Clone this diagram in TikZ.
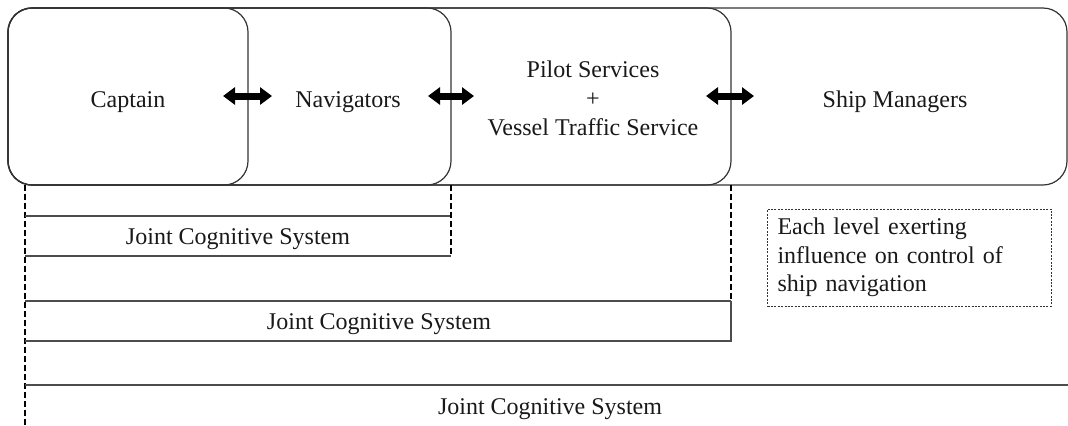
\documentclass[tikz,border=0pt]{standalone}
\usepackage{fontspec}
\setmainfont{Liberation Serif}
\usetikzlibrary{arrows.meta}
\begin{document}
\begin{tikzpicture}[x=0.5pt,y=-0.5pt,
  frame/.style={draw=black!80, line width=0.6pt, rounded corners=12pt},
  sysline/.style={draw=black!70, line width=0.8pt},
  dashline/.style={draw=black, line width=0.8pt, dash pattern=on 3pt off 1.5pt},
  lbl/.style={font=\fontsize{12}{14.5}\selectfont, inner sep=0pt, text=black!90},
  biarrow/.style={line width=3.5pt, black, {Triangle[width=8.5pt 0,length=6pt 0]}-{Triangle[width=8.5pt 0,length=6pt 0]}},
  notebox/.style={draw=black!80, line width=0.5pt, dash pattern=on 1pt off 0.7pt,
     font=\fontsize{12}{14.25}\selectfont, align=left, text width=132pt,
     inner xsep=5pt, inner ysep=0pt, minimum height=48.5pt, text=black!90}
]
\useasboundingbox (0,0) rectangle (1068,425);

% nested rounded frames
\draw[frame] (8,8) rectangle (1067,185);
\draw[frame] (8,8) rectangle (731,185);
\draw[frame] (8,8) rectangle (451,185);
\draw[frame] (8,8) rectangle (248,185);

% labels in frames
\node[lbl, anchor=base] (cap) at (128,107) {Captain};
\node[lbl, anchor=base] (nav) at (348,107) {Navigators};
\node[lbl, align=center] (pil) at (593,98) {Pilot Services\\+\\Vessel Traffic Service};
\node[lbl, anchor=base] (shp) at (895,107) {Ship Managers};

% arrow end points
\coordinate (a1l) at (223,96); \coordinate (a1r) at (272,96);
\coordinate (a2l) at (428,96); \coordinate (a2r) at (474,96);
\coordinate (a3l) at (706,96); \coordinate (a3r) at (754,96);
\draw[biarrow] (a1l) -- (a1r);
\draw[biarrow] (a2l) -- (a2r);
\draw[biarrow] (a3l) -- (a3r);

% joint cognitive system levels
\coordinate (l0) at (25,185);  \coordinate (l1) at (25,425);
\draw[dashline] (l0) -- (l1);

\coordinate (b1tl) at (25,215.7); \coordinate (b1tr) at (451,215.7);
\coordinate (b1bl) at (25,256);   \coordinate (b1br) at (451,256);
\coordinate (b1top) at (451,185);
\draw[sysline] (b1tl) -- (b1tr);
\draw[sysline] (b1bl) -- (b1br);
\draw[dashline] (b1top) -- (b1br);

\coordinate (b2tl) at (25,300.7); \coordinate (b2tr) at (731,300.7);
\coordinate (b2bl) at (25,340.7); \coordinate (b2br) at (731,340.7);
\coordinate (b2top) at (731,185);
\draw[sysline] (b2tl) -- (b2tr);
\draw[sysline] (b2bl) -- (b2br) -- (b2tr);
\draw[dashline] (b2top) -- (b2tr);

\coordinate (b3tl) at (25,385); \coordinate (b3tr) at (1068,385);
\draw[sysline] (b3tl) -- (b3tr);

\node[lbl, anchor=base] (j1) at (238,244) {Joint Cognitive System};
\node[lbl, anchor=base] (j2) at (379,329) {Joint Cognitive System};
\node[lbl, anchor=base] (j3) at (550,414) {Joint Cognitive System};

% note
\node[notebox] (note) at (909.5,257.5) {Each level exerting\\influence on control of\\ship navigation};
\end{tikzpicture}
\end{document}
